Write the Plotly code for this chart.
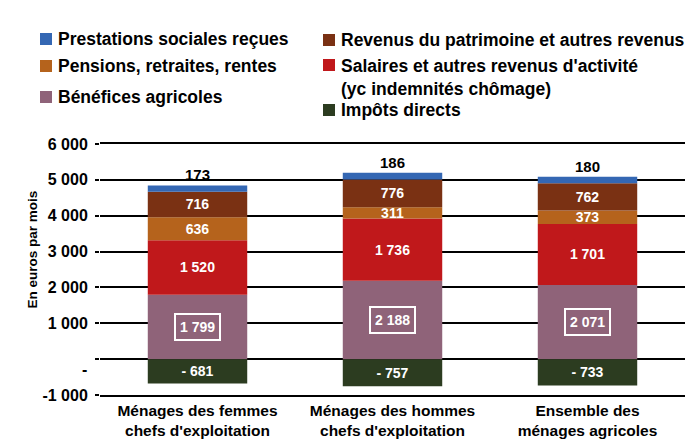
import plotly.graph_objects as go

# ---------------- data ----------------
categories = ["Ménages des femmes<br>chefs d'exploitation",
              "Ménages des hommes<br>chefs d'exploitation",
              "Ensemble des<br>ménages agricoles"]

name_benefices = "Bénéfices agricoles"
name_salaires = "Salaires et autres revenus d'activité<br>(yc indemnités chômage)"
name_pensions = "Pensions, retraites, rentes"
name_patrimoine = "Revenus du patrimoine et autres revenus"
name_prestations = "Prestations sociales reçues"
name_impots = "Impôts directs"

benefices = [1799, 2188, 2071]
salaires = [1520, 1736, 1701]
pensions = [636, 311, 373]
patrimoine = [716, 776, 762]
prestations = [173, 186, 180]
impots = [-681, -757, -733]

y_tickvals = [-1000, 0, 1000, 2000, 3000, 4000, 5000, 6000]
y_ticktext = ["-1 000", " ", "1 000", "2 000", "3 000", "4 000", "5 000", "6 000"]
y_title = "En euros par mois"

# ---------------- style ----------------
FONT = "Liberation Sans, Arial, sans-serif"
col = {
    "benefices": "#8F6379",
    "salaires": "#C0181B",
    "pensions": "#B5631C",
    "patrimoine": "#7A3113",
    "prestations": "#3467B3",
    "impots": "#2C3C20",
}

# plot area in pixels
L, R, T, B = 100, 685, 144, 395
W, H = 700, 439


def px2x(px):
    return (px - L) / (R - L)


def py2y(py):
    return (B - py) / (B - T)


def fmt(v):
    s = f"{abs(v):,}".replace(",", " ")
    return ("- " + s) if v < 0 else s


fig = go.Figure()

series = [
    (name_benefices, benefices, col["benefices"], False),
    (name_salaires, salaires, col["salaires"], True),
    (name_pensions, pensions, col["pensions"], True),
    (name_patrimoine, patrimoine, col["patrimoine"], True),
    (name_prestations, prestations, col["prestations"], False),
    (name_impots, impots, col["impots"], True),
]

for name, vals, c, show_text in series:
    fig.add_trace(go.Bar(
        x=categories, y=vals, name=name,
        marker=dict(color=c, line=dict(width=0)),
        text=[fmt(v) for v in vals] if show_text else None,
        textposition="inside" if show_text else "none",
        insidetextanchor="middle",
        constraintext="none",
        textangle=0,
        textfont=dict(family=FONT, size=14, color="white", weight="bold"),
        showlegend=False,
        hoverinfo="skip",
    ))

annotations = []
shapes = []

# boxed label for Bénéfices agricoles
for cat, v in zip(categories, benefices):
    annotations.append(dict(
        x=cat, y=v / 2, xref="x", yref="y", text=fmt(v), showarrow=False,
        font=dict(family=FONT, size=14, color="white", weight="bold"),
        bordercolor="white", borderwidth=2, borderpad=4,
    ))

# label above bars for Prestations sociales
for i, cat in enumerate(categories):
    total = benefices[i] + salaires[i] + pensions[i] + patrimoine[i] + prestations[i]
    annotations.append(dict(
        x=cat, y=total, xref="x", yref="y", text=fmt(prestations[i]),
        showarrow=False, yanchor="bottom", yshift=0,
        font=dict(family=FONT, size=15, color="black", weight="bold"),
    ))

# "-" label for the zero tick (accounting format)
annotations.append(dict(
    x=px2x(89), y=0, xref="paper", yref="y", text="-", showarrow=False,
    xanchor="right", yshift=-10,
    font=dict(family=FONT, size=16, color="black", weight="bold"),
))

# y axis title
annotations.append(dict(
    x=px2x(22), y=py2y(250), xref="paper", yref="paper", text=y_title,
    showarrow=False, textangle=-90,
    font=dict(family=FONT, size=13.5, color="black", weight="bold"),
))

# manual two-column legend
legend_items = [
    (name_prestations, col["prestations"], 40, 39),
    (name_pensions, col["pensions"], 40, 66),
    (name_benefices, col["benefices"], 40, 97),
    (name_patrimoine, col["patrimoine"], 323, 40),
    (name_salaires, col["salaires"], 323, 65),
    (name_impots, col["impots"], 323, 110),
]
SQ = 12
for name, c, mx, my in legend_items:
    shapes.append(dict(
        type="rect", xref="paper", yref="paper",
        x0=px2x(mx), x1=px2x(mx + SQ), y0=py2y(my + SQ / 2), y1=py2y(my - SQ / 2),
        fillcolor=c, line=dict(width=0),
    ))
    multiline = "<br>" in name
    annotations.append(dict(
        x=px2x(mx + SQ + 4), y=py2y(my - 11.5) if multiline else py2y(my),
        xref="paper", yref="paper", text=name, showarrow=False,
        xanchor="left", yanchor="top" if multiline else "middle", align="left",
        font=dict(family=FONT, size=17.5, color="black", weight="bold"),
    ))

fig.update_layout(
    width=W, height=H,
    margin=dict(l=L, r=W - R, t=T, b=H - B),
    paper_bgcolor="white", plot_bgcolor="white",
    barmode="relative", bargap=0.49,
    showlegend=False,
    font=dict(family=FONT, color="black"),
    annotations=annotations, shapes=shapes,
    xaxis=dict(
        showgrid=False, zeroline=False, ticks="",
        showline=True, mirror=True, linecolor="black", linewidth=2,
        tickfont=dict(family=FONT, size=15.5, color="black", weight="bold"),
        ticklabelstandoff=0, automargin=False,
    ),
    yaxis=dict(
        range=[-1000, 6000], tickvals=y_tickvals, ticktext=y_ticktext,
        showgrid=True, gridcolor="black", gridwidth=2,
        zeroline=True, zerolinecolor="black", zerolinewidth=2,
        ticks="outside", ticklen=4, tickcolor="black", tickwidth=2,
        ticklabelstandoff=4, automargin=False,
        tickfont=dict(family=FONT, size=16, color="black", weight="bold"),
        showline=False,
    ),
)

fig.write_html("out.html")
